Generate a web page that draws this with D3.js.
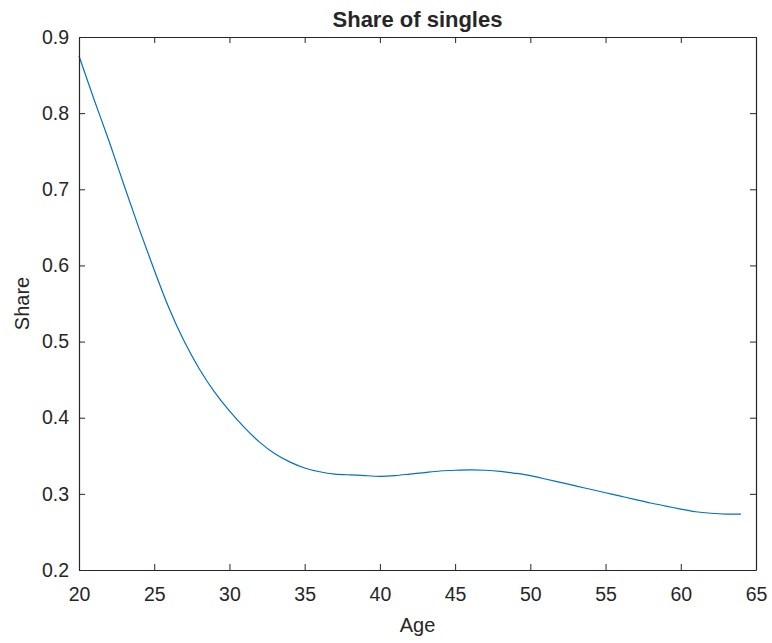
<!DOCTYPE html>
<html>
<head>
<meta charset="utf-8">
<script src="https://cdn.jsdelivr.net/npm/d3@7"></script>
<style>
  body { margin: 0; background: #fff; }
  text { font-family: "Liberation Sans", Arial, Helvetica, sans-serif; fill: #262626; }
</style>
</head>
<body>
<div id="chart"></div>
<script>
const ages = d3.range(20, 65)
const shares = [
  0.875, 0.818, 0.763, 0.705, 0.648, 0.594, 0.543, 0.500, 0.464, 0.434,
  0.409, 0.387, 0.368, 0.353, 0.342, 0.334, 0.329, 0.326, 0.325, 0.324,
  0.323, 0.324, 0.326, 0.328, 0.330, 0.331, 0.3315, 0.331, 0.3295, 0.327,
  0.324, 0.3195, 0.315, 0.3105, 0.306, 0.3015, 0.297, 0.2925, 0.288, 0.284,
  0.280, 0.2765, 0.2745, 0.2735, 0.2735
]
const xTicks = [20, 25, 30, 35, 40, 45, 50, 55, 60, 65]
const yTicks = [0.2, 0.3, 0.4, 0.5, 0.6, 0.7, 0.8, 0.9]

const width = 772, height = 643
const margin = { left: 79, right: 16, top: 37, bottom: 73 }
const axisColor = "#262626"
const lineColor = "#0072BD"
const tickLen = 6

var svg = d3.select("#chart")
  .append("svg")
  .attr("width", width)
  .attr("height", height)

const x = d3.scaleLinear()
  .domain([20, 65])
  .range([margin.left, width - margin.right])

const y = d3.scaleLinear()
  .domain([0.2, 0.9])
  .range([height - margin.bottom, margin.top])

// inward ticks on all four sides, MATLAB style
const xBottom = d3.axisBottom(x).tickValues(xTicks).tickSizeInner(-tickLen).tickSizeOuter(0).tickPadding(17)
const xTop = d3.axisTop(x).tickValues(xTicks).tickSizeInner(-tickLen).tickSizeOuter(0).tickFormat("")
const yLeft = d3.axisLeft(y).tickValues(yTicks).tickSizeInner(-tickLen).tickSizeOuter(0).tickPadding(10).tickFormat(d3.format(".1f"))
const yRight = d3.axisRight(y).tickValues(yTicks).tickSizeInner(-tickLen).tickSizeOuter(0).tickFormat("")

function styleAxis(g) {
  g.select(".domain").attr("stroke", axisColor).attr("stroke-width", 1.2)
  g.selectAll(".tick line").attr("stroke", axisColor).attr("stroke-width", 1)
  g.selectAll(".tick text")
    .attr("fill", axisColor)
    .style("font-size", "19.5px")
    .style("font-family", "'Liberation Sans', Arial, sans-serif")
}

// line first so the box sits on top
svg.append("path")
  .datum(ages.map((a, i) => ({ age: a, share: shares[i] })))
  .attr("fill", "none")
  .attr("stroke", lineColor)
  .attr("stroke-width", 1.2)
  .attr("d", d3.line()
    .curve(d3.curveNatural)
    .x(d => x(d.age))
    .y(d => y(d.share)))

svg.append("g")
  .attr("transform", `translate(0,${height - margin.bottom})`)
  .call(xBottom)
  .call(styleAxis)

svg.append("g")
  .attr("transform", `translate(0,${margin.top})`)
  .call(xTop)
  .call(styleAxis)

svg.append("g")
  .attr("transform", `translate(${margin.left},0)`)
  .call(yLeft)
  .call(styleAxis)

svg.append("g")
  .attr("transform", `translate(${width - margin.right},0)`)
  .call(yRight)
  .call(styleAxis)

svg.append("text")
  .attr("text-anchor", "middle")
  .attr("x", (margin.left + width - margin.right) / 2)
  .attr("y", 27)
  .style("font-size", "22px")
  .style("font-weight", "bold")
  .text("Share of singles")

svg.append("text")
  .attr("text-anchor", "middle")
  .attr("x", (margin.left + width - margin.right) / 2)
  .attr("y", 632)
  .style("font-size", "20px")
  .text("Age")

svg.append("text")
  .attr("text-anchor", "middle")
  .attr("transform", `translate(29,${(margin.top + height - margin.bottom) / 2})rotate(-90)`)
  .style("font-size", "20px")
  .text("Share")
</script>
</body>
</html>
